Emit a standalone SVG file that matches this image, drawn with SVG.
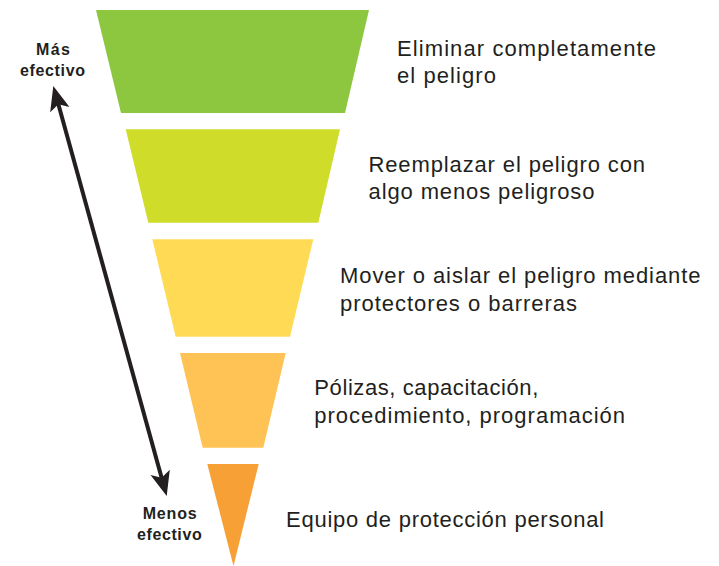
<svg xmlns="http://www.w3.org/2000/svg" width="719" height="566" viewBox="0 0 719 566">
<style>
.lbl{font-family:"Liberation Sans",Arial,sans-serif;font-size:22px;fill:#231f20}
.side{font-family:"Liberation Sans",Arial,sans-serif;font-size:16px;font-weight:bold;fill:#231f20}
</style>
<defs>
<marker id="head" markerUnits="userSpaceOnUse" viewBox="-10 -12 32 24" markerWidth="32" markerHeight="24" refX="0" refY="0" orient="auto-start-reverse" overflow="visible">
<path d="M18,0 L-6.5,-10 L-1,0 L-6.5,10 Z" fill="#231f20"/>
</marker>
</defs>
<rect width="719" height="566" fill="#ffffff"/>
<g id="level1">
<polygon points="96,10 369,10 345,113 121,113" fill="#8dc63f"/>
<text class="lbl" x="397" y="56" textLength="259" lengthAdjust="spacing">Eliminar completamente</text>
<text class="lbl" x="397" y="83" textLength="99" lengthAdjust="spacing">el peligro</text>
</g>
<g id="level2">
<polygon points="125.7,129.3 340,129.3 318.3,222.7 148.3,222.7" fill="#cfdc29"/>
<text class="lbl" x="368.5" y="171.5" textLength="276.5" lengthAdjust="spacing">Reemplazar el peligro con</text>
<text class="lbl" x="368.5" y="199" textLength="226" lengthAdjust="spacing">algo menos peligroso</text>
</g>
<g id="level3">
<polygon points="152.3,239.3 313.3,239.3 290,336.7 175.7,336.7" fill="#ffdb55"/>
<text class="lbl" x="340" y="283.3" textLength="360.5" lengthAdjust="spacing">Mover o aislar el peligro mediante</text>
<text class="lbl" x="340" y="310.7" textLength="237" lengthAdjust="spacing">protectores o barreras</text>
</g>
<g id="level4">
<polygon points="180,353 285.7,353 263.3,447.7 202.7,447.7" fill="#fec354"/>
<text class="lbl" x="314.3" y="395" textLength="224" lengthAdjust="spacing">Pólizas, capacitación,</text>
<text class="lbl" x="314.3" y="423.3" textLength="310.7" lengthAdjust="spacing">procedimiento, programación</text>
</g>
<g id="level5">
<polygon points="207.3,464 258.7,464 233.5,566" fill="#f7a035"/>
<text class="lbl" x="286" y="526.7" textLength="318" lengthAdjust="spacing">Equipo de protección personal</text>
</g>
<g id="most">
<text class="side" x="36" y="55" textLength="34" lengthAdjust="spacing">Más</text>
<text class="side" x="20" y="75.5" textLength="65" lengthAdjust="spacing">efectivo</text>
</g>
<g id="least">
<text class="side" x="142.7" y="519" textLength="54" lengthAdjust="spacing">Menos</text>
<text class="side" x="137" y="540" textLength="64.7" lengthAdjust="spacing">efectivo</text>
</g>
<g id="connectors">
<line x1="58.1" y1="103.3" x2="161.9" y2="478.7" stroke="#231f20" stroke-width="4" marker-start="url(#head)" marker-end="url(#head)"/>
</g>
</svg>
